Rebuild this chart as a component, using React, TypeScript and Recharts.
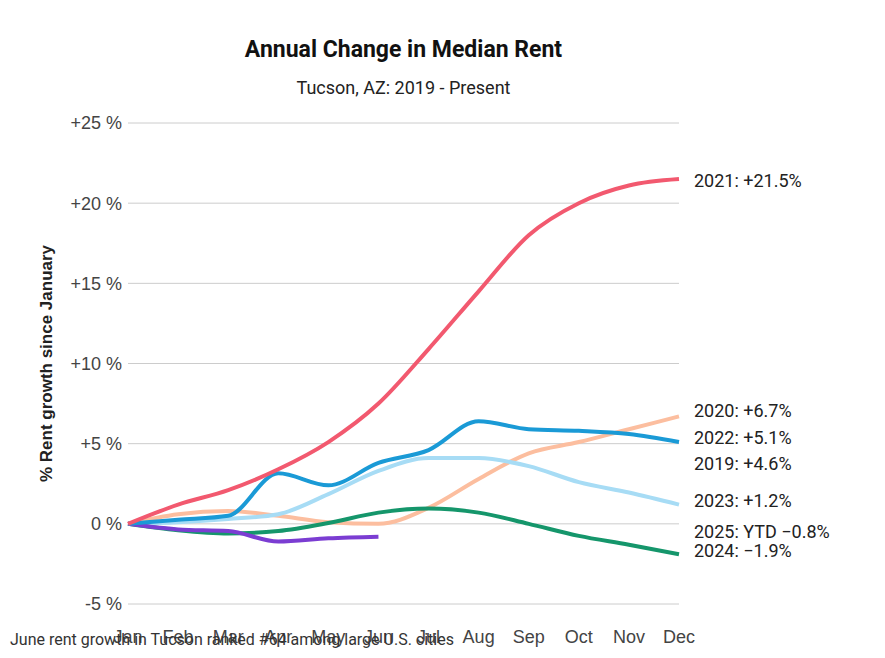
import React from 'react';
import { LineChart, Line, XAxis, YAxis, CartesianGrid, ReferenceDot, Label } from 'recharts';

// Months on the x axis
const months = ['Jan', 'Feb', 'Mar', 'Apr', 'May', 'Jun', 'Jul', 'Aug', 'Sep', 'Oct', 'Nov', 'Dec'];

// % rent growth since January
const y2020 = [0, 0.6, 0.8, 0.5, 0.1, 0.0, 1.0, 2.8, 4.4, 5.1, 5.9, 6.7];
const y2021 = [0, 1.2, 2.1, 3.4, 5.1, 7.5, 10.9, 14.5, 18.0, 20.0, 21.1, 21.5];
const y2022 = [0, 0.25, 0.5, 3.15, 2.4, 3.8, 4.6, 6.4, 5.9, 5.8, 5.6, 5.1];
const y2023 = [0, 0.1, 0.3, 0.6, 1.85, 3.3, 4.1, 4.1, 3.6, 2.6, 1.95, 1.2];
const y2024 = [0, -0.4, -0.6, -0.45, 0.05, 0.7, 0.95, 0.7, 0.0, -0.75, -1.3, -1.9];
const y2025 = [0, -0.35, -0.45, -1.1, -0.9, -0.8];

const yTicks = [-5, 0, 5, 10, 15, 20, 25];

// End-of-line labels
const endLabels = [
  { key: '2021', value: 21.5, text: '2021: +21.5%' },
  { key: '2020', value: 6.7, text: '2020: +6.7%' },
  { key: '2022', value: 5.1, text: '2022: +5.1%' },
  { key: '2019', value: 4.6, text: '2019: +4.6%' },
  { key: '2023', value: 1.2, text: '2023: +1.2%' },
  { key: '2025', value: -0.8, text: '2025: YTD \u22120.8%' },
  { key: '2024', value: -1.9, text: '2024: \u22121.9%' },
];

const data = months.map((m, i) => ({
  name: m,
  y2020: y2020[i],
  y2021: y2021[i],
  y2022: y2022[i],
  y2023: y2023[i],
  y2024: y2024[i],
  y2025: i < y2025.length ? y2025[i] : null,
}));

const COLORS: Record<string, string> = {
  y2020: '#fcbe9f',
  y2021: '#f2596f',
  y2022: '#1a9ad6',
  y2023: '#a7dcf5',
  y2024: '#15966b',
  y2025: '#7b3dd2',
};

// nudges so the labels don't collide
const labelShift: Record<string, number> = {
  '2021': 2,
  '2020': -6,
  '2022': -4,
  '2019': 14,
  '2023': -4,
  '2025': -5,
  '2024': -4,
};

const FONT = 'Roboto, "Noto Sans", sans-serif';
const AXIS_FONT = '"Liberation Sans", Arial, sans-serif';

const fmtTick = (v: number) => (v > 0 ? `+${v} %` : `${v} %`);

export default function App() {
  return (
    <div style={{ position: 'absolute', left: 0, top: 0, width: 885, height: 658, background: '#fff', fontFamily: FONT }}>
      <div style={{ position: 'absolute', top: 36, left: 0, width: 807, textAlign: 'center', fontSize: 23, fontWeight: 700, color: '#111' }}>
        Annual Change in Median Rent
      </div>
      <div style={{ position: 'absolute', top: 77, left: 0, width: 807, textAlign: 'center', fontSize: 18, color: '#222' }}>
        Tucson, AZ: 2019 - Present
      </div>
      <LineChart
        width={885}
        height={658}
        data={data}
        margin={{ top: 123, right: 206, left: 0, bottom: 14 }}
        style={{ fontFamily: AXIS_FONT }}
      >
        <CartesianGrid vertical={false} stroke="#cccccc" />
        <XAxis
          dataKey="name"
          axisLine={false}
          tickLine={false}
          tickSize={0}
          tickMargin={26}
          height={40}
          interval={0}
          tick={{ fontSize: 18, fill: '#444', fontFamily: AXIS_FONT }}
        />
        <YAxis
          domain={[-5, 25]}
          ticks={yTicks}
          tickFormatter={fmtTick}
          axisLine={false}
          tickLine={false}
          tickSize={0}
          tickMargin={6}
          width={128}
          tick={{ fontSize: 18, fill: '#444', fontFamily: AXIS_FONT }}
        >
          <Label
            value="% Rent growth since January"
            angle={-90}
            position="center"
            dx={-18}
            style={{ fontSize: 17, fontWeight: 700, fill: '#222', fontFamily: AXIS_FONT }}
          />
        </YAxis>
        {['y2020', 'y2023', 'y2024', 'y2025', 'y2022', 'y2021'].map((k) => (
          <Line
            key={k}
            type="monotone"
            dataKey={k}
            stroke={COLORS[k]}
            strokeWidth={4}
            dot={false}
            isAnimationActive={false}
            connectNulls={false}
          />
        ))}
        {endLabels.map((l) => (
          <ReferenceDot
            key={l.key}
            x="Dec"
            y={l.value}
            r={0}
            ifOverflow="visible"
            label={(props: any) => {
              const vb = props.viewBox || {};
              const cx = (vb.x ?? 0) + (vb.width ?? 0) / 2;
              const cy = (vb.y ?? 0) + (vb.height ?? 0) / 2;
              return (
                <text x={cx + 15} y={cy + labelShift[l.key]} dy="0.35em" fontSize={18} fill="#222" fontFamily={FONT}>
                  {l.text}
                </text>
              );
            }}
          />
        ))}
      </LineChart>
      <div style={{ position: 'absolute', top: 630, left: 10, fontSize: 16, color: '#333', whiteSpace: 'nowrap' }}>
        June rent growth in Tucson ranked #64 among large U.S. cities
      </div>
    </div>
  );
}
